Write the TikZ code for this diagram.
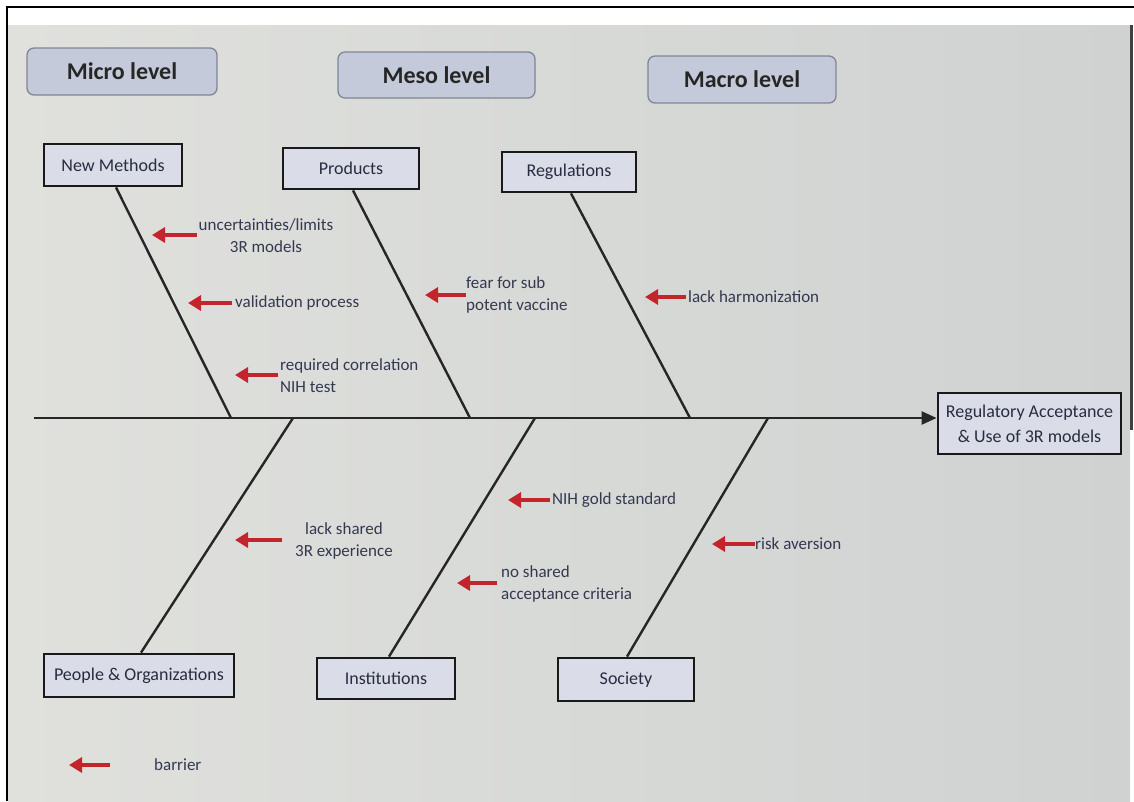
\documentclass[tikz,border=0pt]{standalone}
\usepackage{fontspec}
\setmainfont{Carlito}
\usepackage{tikz}
\usetikzlibrary{shapes,arrows.meta}
\definecolor{slideleft}{RGB}{224,225,221}
\definecolor{slideright}{RGB}{207,210,209}
\definecolor{levelfill}{RGB}{196,202,217}
\definecolor{levelline}{RGB}{128,134,148}
\definecolor{causefill}{RGB}{218,221,232}
\definecolor{labeltext}{RGB}{40,44,64}
\definecolor{notetext}{RGB}{52,56,80}
\definecolor{barred}{RGB}{196,36,44}

\begin{document}
\begin{tikzpicture}[x=1pt,y=-1pt,
    level/.style={draw=levelline, fill=levelfill, rounded corners=7pt, line width=1.3pt,
      inner sep=0pt, text=black!85, font=\fontsize{24}{26}\selectfont\bfseries},
    cause/.style={draw=black!90, fill=causefill, line width=2.8pt, inner sep=0pt,
      text=labeltext, font=\fontsize{18}{25}\selectfont},
    bone/.style={line width=2.4pt, draw=black!85},
    note/.style={inner sep=0pt, text=notetext, font=\fontsize{17}{22}\selectfont},
    barrier/.style={-{Triangle[length=13pt,width=15pt]}, line width=3.6pt, draw=barred}]
     \useasboundingbox (0,0) rectangle (1134,801);
     \fill [white] (0,0) rectangle (1134,801);
     \shade [left color=slideleft, right color=slideright] (8,25) rectangle (1130,801);
     \draw [line width=2pt] (7,801) -- (7,7) -- (1134,7);
     \draw [black!75, line width=3pt] (1131,25) -- (1131,430);

     \node [level, minimum width=190, minimum height=47] (micro) at (122,71.5) {Micro level};
     \node [level, minimum width=197, minimum height=46] (meso) at (436.5,75) {Meso level};
     \node [level, minimum width=188, minimum height=47] (macro) at (742,79.5) {Macro level};

     \node [cause, minimum width=138, minimum height=42] (newm) at (113,165) {New Methods};
     \node [cause, minimum width=136, minimum height=41] (prod) at (351,168.5) {Products};
     \node [cause, minimum width=134, minimum height=40] (regu) at (569,172) {Regulations};
     \node [cause, minimum width=190, minimum height=43] (people) at (139,675.5) {People \& Organizations};
     \node [cause, minimum width=138, minimum height=41] (inst) at (386,678.5) {Institutions};
     \node [cause, minimum width=136, minimum height=43] (soc) at (626,679.5) {Society};
     \node [cause, minimum width=183, minimum height=61, align=center] (goal) at (1029.5,423.5)
       {Regulatory Acceptance\\\& Use of 3R models};

     \coordinate (tail) at (34,418);
     \coordinate (jnewm) at (231,418);
     \coordinate (jprod) at (470,418);
     \coordinate (jregu) at (690,418);
     \coordinate (jpeople) at (293,418);
     \coordinate (jinst) at (535,418);
     \coordinate (jsoc) at (768,418);

     \draw [bone, -{Triangle[length=15pt,width=13pt]}] (tail) -- (tail -| goal.west);
     \draw [bone] ([xshift=3]newm.south) -- (jnewm);
     \draw [bone] ([xshift=2]prod.south) -- (jprod);
     \draw [bone] ([xshift=2]regu.south) -- (jregu);
     \draw [bone] ([xshift=2]people.north) -- (jpeople);
     \draw [bone] ([xshift=3]inst.north) -- (jinst);
     \draw [bone] ([xshift=1]soc.north) -- (jsoc);

     \node [note, align=center] (unc) at (266,236) {uncertainties/limits\\3R models};
     \node [note, anchor=west] (valid) at (235,303) {validation process};
     \node [note, align=left, anchor=west] (corr) at (280,376) {required correlation\\NIH test};
     \node [note, align=left, anchor=west] (fear) at (466,295) {fear for sub\\potent vaccine};
     \node [note, anchor=west] (harm) at (688,297) {lack harmonization};
     \node [note, align=center] (shared) at (344,541) {lack shared\\3R experience};
     \node [note, anchor=west] (gold) at (552,500) {NIH gold standard};
     \node [note, align=left, anchor=west] (crit) at (501,584) {no shared\\acceptance criteria};
     \node [note, anchor=west] (risk) at (755,544) {risk aversion};
     \node [note, anchor=west] (legend) at (154,765) {barrier};

     \coordinate (aunc) at (152,235);
     \coordinate (avalid) at (188,303);
     \coordinate (acorr) at (235,375);
     \coordinate (afear) at (425,295);
     \coordinate (aharm) at (645,297);
     \coordinate (ashared) at (235,540);
     \coordinate (agold) at (508,500);
     \coordinate (acrit) at (457,583);
     \coordinate (arisk) at (712,544);
     \coordinate (alegend) at (69,765);

     \draw [barrier] ([xshift=-2]unc.west |- aunc) -- (aunc);
     \draw [barrier] ([xshift=-3]valid.west) -- (avalid);
     \draw [barrier] ([xshift=-2]corr.west |- acorr) -- (acorr);
     \draw [barrier] (fear.west) -- (afear);
     \draw [barrier] ([xshift=-2]harm.west) -- (aharm);
     \draw [barrier] ([xshift=-13]shared.west |- ashared) -- (ashared);
     \draw [barrier] ([xshift=-2]gold.west) -- (agold);
     \draw [barrier] ([xshift=-4]crit.west |- acrit) -- (acrit);
     \draw [barrier] (risk.west) -- (arisk);
     \draw [barrier] ([xshift=-44]legend.west) -- (alegend);
 \end{tikzpicture}
\end{document}
